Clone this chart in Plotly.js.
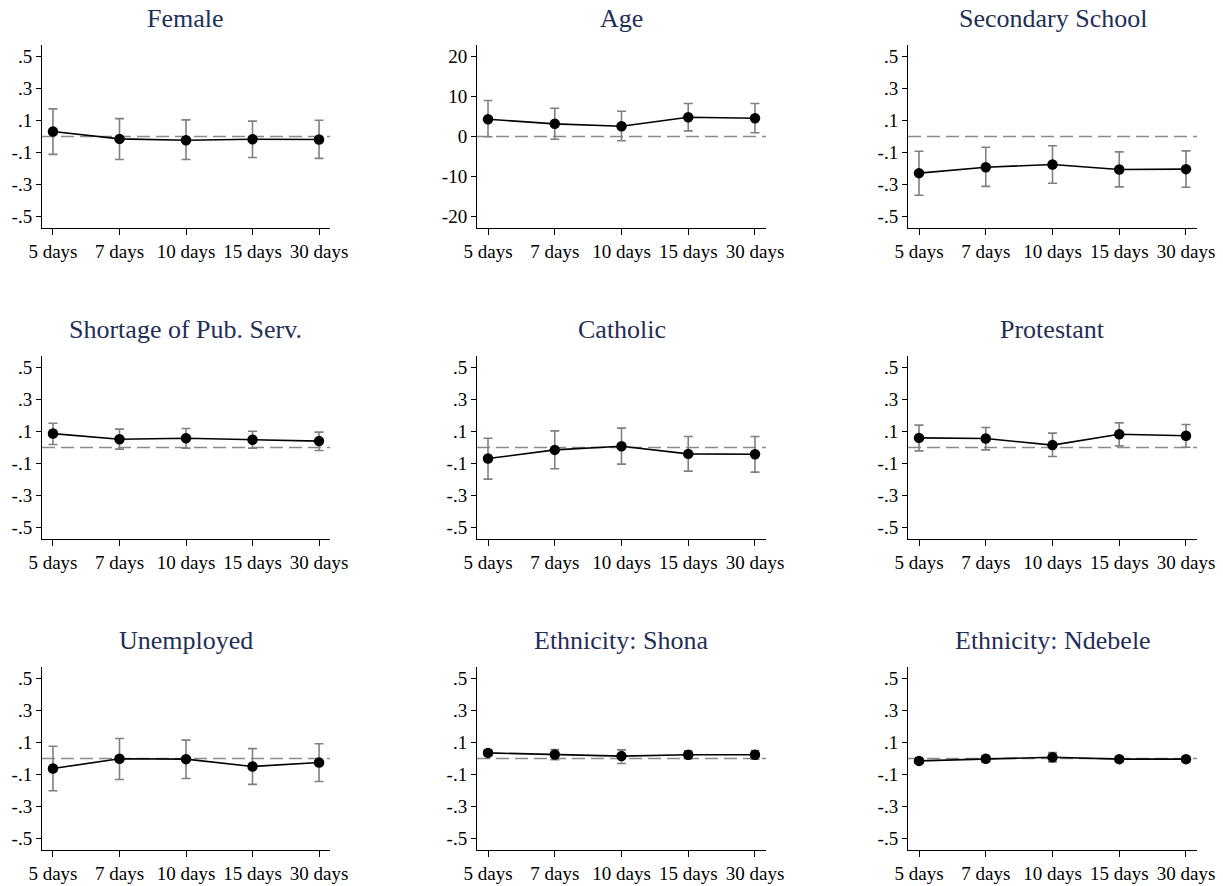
<!DOCTYPE html>
<html><head><meta charset="utf-8">
<script src="https://cdn.plot.ly/plotly-3.0.1.min.js"></script>
<style>html,body{margin:0;padding:0;background:#fff}#chart{width:1223px;height:886px}</style>
</head><body><div id="chart"></div>
<script>
const categories = ['5 days', '7 days', '10 days', '15 days', '30 days'];
const panelTitles = ['Female', 'Age', 'Secondary School', 'Shortage of Pub. Serv.', 'Catholic', 'Protestant', 'Unemployed', 'Ethnicity: Shona', 'Ethnicity: Ndebele'];

const femaleEst = [0.031, -0.015, -0.023, -0.017, -0.019];
const femaleLo  = [-0.112, -0.144, -0.144, -0.131, -0.137];
const femaleHi  = [0.173, 0.112, 0.104, 0.096, 0.102];

const ageEst = [4.33, 3.17, 2.58, 4.83, 4.58];
const ageLo  = [-0.08, -0.67, -1.08, 1.42, 0.92];
const ageHi  = [9.0, 7.08, 6.33, 8.25, 8.25];

const secondaryEst = [-0.229, -0.192, -0.175, -0.206, -0.204];
const secondaryLo  = [-0.367, -0.312, -0.292, -0.315, -0.317];
const secondaryHi  = [-0.092, -0.067, -0.058, -0.096, -0.090];

const shortageEst = [0.087, 0.052, 0.058, 0.048, 0.040];
const shortageLo  = [0.019, -0.010, -0.004, -0.004, -0.019];
const shortageHi  = [0.152, 0.115, 0.119, 0.102, 0.096];

const catholicEst = [-0.069, -0.015, 0.008, -0.040, -0.042];
const catholicLo  = [-0.198, -0.133, -0.104, -0.148, -0.154];
const catholicHi  = [0.058, 0.104, 0.121, 0.069, 0.069];

const protestantEst = [0.060, 0.056, 0.015, 0.083, 0.073];
const protestantLo  = [-0.021, -0.015, -0.056, 0.010, 0.002];
const protestantHi  = [0.140, 0.125, 0.090, 0.154, 0.144];

const unemployedEst = [-0.062, -0.002, -0.004, -0.050, -0.025];
const unemployedLo  = [-0.202, -0.131, -0.125, -0.162, -0.144];
const unemployedHi  = [0.077, 0.125, 0.115, 0.062, 0.092];

const shonaEst = [0.035, 0.025, 0.015, 0.023, 0.023];
const shonaLo  = [0.017, -0.008, -0.031, -0.002, -0.004];
const shonaHi  = [0.054, 0.056, 0.054, 0.048, 0.050];

const ndebeleEst = [-0.015, -0.002, 0.008, -0.004, -0.004];
const ndebeleLo  = [-0.029, -0.023, -0.021, -0.021, -0.023];
const ndebeleHi  = [0.000, 0.019, 0.037, 0.012, 0.012];

const propTicks = [-0.5, -0.3, -0.1, 0.1, 0.3, 0.5];
const propTickText = ['-.5', '-.3', '-.1', '.1', '.3', '.5'];
const ageTicks = [-20, -10, 0, 10, 20];
const ageTickText = ['-20', '-10', '0', '10', '20'];

const panels = [
  {est: femaleEst, lo: femaleLo, hi: femaleHi},
  {est: ageEst, lo: ageLo, hi: ageHi, age: true},
  {est: secondaryEst, lo: secondaryLo, hi: secondaryHi},
  {est: shortageEst, lo: shortageLo, hi: shortageHi},
  {est: catholicEst, lo: catholicLo, hi: catholicHi},
  {est: protestantEst, lo: protestantLo, hi: protestantHi},
  {est: unemployedEst, lo: unemployedLo, hi: unemployedHi},
  {est: shonaEst, lo: shonaLo, hi: shonaHi},
  {est: ndebeleEst, lo: ndebeleLo, hi: ndebeleHi}
];

const W = 1223, H = 886;
const colPx = [[42, 330], [477, 766], [908, 1197]];
const rowPx = [[45, 228], [356, 539], [667, 850]];
const titleYPx = [18, 329, 640];
const FONT = 'Liberation Serif, Times New Roman, serif';
const TITLE_COLOR = '#1f2f57';

const traces = [];
const layout = {
  width: W, height: H,
  margin: {l: 0, r: 0, t: 0, b: 0},
  paper_bgcolor: '#ffffff', plot_bgcolor: '#ffffff',
  showlegend: false,
  font: {family: FONT, size: 19, color: '#000'},
  annotations: [], shapes: []
};

panels.forEach((p, i) => {
  const col = i % 3, row = Math.floor(i / 3);
  const n = i + 1;
  const xa = 'x' + (n === 1 ? '' : n), ya = 'y' + (n === 1 ? '' : n);
  const xkey = 'xaxis' + (n === 1 ? '' : n), ykey = 'yaxis' + (n === 1 ? '' : n);
  traces.push({
    type: 'scatter', mode: 'lines+markers',
    x: categories, y: p.est, xaxis: xa, yaxis: ya,
    line: {color: '#000', width: 1.6},
    marker: {color: '#000', size: 10.5},
    error_y: {
      type: 'data', symmetric: false,
      array: p.hi.map((v, k) => v - p.est[k]),
      arrayminus: p.est.map((v, k) => v - p.lo[k]),
      color: '#808080', thickness: 1.6, width: 4.5
    },
    hoverinfo: 'skip'
  });
  layout[xkey] = {
    domain: [colPx[col][0] / W, colPx[col][1] / W],
    anchor: ya, type: 'category', range: [-0.165, 4.165],
    showline: true, linecolor: '#000', linewidth: 1,
    ticks: 'outside', ticklen: 6, tickcolor: '#000', tickwidth: 1,
    showgrid: false, zeroline: false,
    tickfont: {family: FONT, size: 19, color: '#000'}
  };
  const r = p.age ? 22.9 : 0.572;
  layout[ykey] = {
    domain: [1 - rowPx[row][1] / H, 1 - rowPx[row][0] / H],
    anchor: xa, range: [-r, r],
    tickvals: p.age ? ageTicks : propTicks,
    ticktext: p.age ? ageTickText : propTickText,
    showline: true, linecolor: '#000', linewidth: 1,
    ticks: 'outside', ticklen: 5, tickcolor: '#000', tickwidth: 1,
    showgrid: false, zeroline: false,
    tickfont: {family: FONT, size: 19, color: '#000'}
  };
  layout.shapes.push({
    type: 'line', xref: xa + ' domain', yref: ya,
    x0: 0, x1: 1, y0: 0, y1: 0,
    line: {color: '#8a8a8a', width: 1.6, dash: '13px,6px'},
    layer: 'below'
  });
  layout.annotations.push({
    text: panelTitles[i], showarrow: false,
    xref: 'paper', yref: 'paper',
    x: (colPx[col][0] + colPx[col][1]) / 2 / W,
    y: 1 - titleYPx[row] / H,
    xanchor: 'center', yanchor: 'middle',
    font: {family: FONT, size: 26, color: TITLE_COLOR}
  });
});

Plotly.newPlot('chart', traces, layout, {staticPlot: true, displayModeBar: false});
</script>
</body></html>
